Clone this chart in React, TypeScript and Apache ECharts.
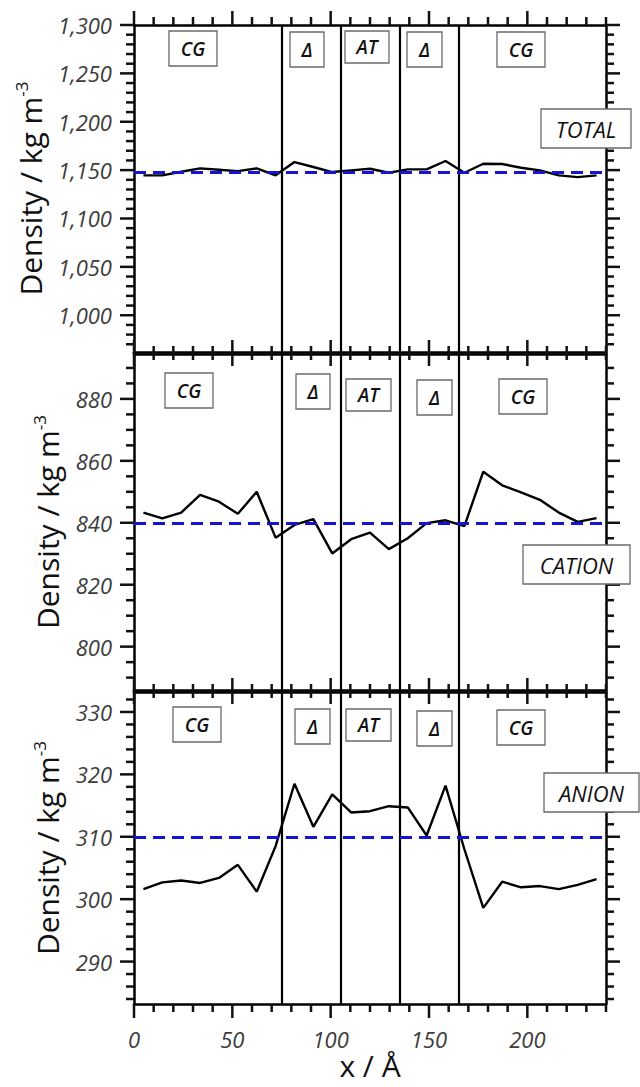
import React, { useEffect, useRef } from 'react';
import * as echarts from 'echarts';

// ---- data ----
const xPos = [4.8, 14.4, 24, 33.6, 43.2, 52.8, 62.4, 72, 81.6, 91.2, 100.8, 110.4, 120, 129.6, 139.2, 148.8, 158.4, 168, 177.6, 187.2, 196.8, 206.4, 216, 225.6, 235.2];
const totalDensity = [1144.6, 1144.6, 1148.3, 1151.8, 1150.4, 1149.0, 1151.8, 1144.6, 1158.3, 1153.2, 1148.0, 1149.7, 1151.4, 1147.3, 1150.8, 1150.8, 1159.4, 1147.3, 1156.6, 1156.3, 1152.5, 1149.7, 1144.6, 1142.8, 1144.6];
const cationDensity = [843.3, 841.4, 843.3, 849.0, 846.8, 842.9, 850.0, 835.2, 839.3, 841.2, 830.1, 834.7, 836.8, 831.5, 835.0, 839.9, 840.8, 838.9, 856.5, 852.1, 849.8, 847.4, 843.3, 840.3, 841.5];
const anionDensity = [301.6, 302.7, 303.0, 302.6, 303.4, 305.5, 301.2, 308.5, 318.5, 311.6, 316.8, 313.9, 314.1, 314.9, 314.7, 310.2, 318.2, 308.0, 298.6, 302.8, 301.9, 302.1, 301.6, 302.3, 303.2];
const meanDensity = [1148, 840, 310];
const regionBounds = [75, 105, 135, 165];
const regionLabels = ['CG', 'Δ', 'AT', 'Δ', 'CG'];
const panelLabels = ['TOTAL', 'CATION', 'ANION'];
const xTicks = [0, 50, 100, 150, 200];
const yTicksTotal = [1000, 1050, 1100, 1150, 1200, 1250, 1300];
const yTicksCation = [800, 820, 840, 860, 880];
const yTicksAnion = [290, 300, 310, 320, 330];
const yTitle = 'Density / kg m{sup|-3}';
const xTitle = 'x / Å';

// ---- layout ----
const LEFT = 134;
const RIGHT = 34;
const CHART_W = 640;
const X_MIN = 0;
const X_MAX = 240;
const X_MINOR_STEP = 10;
const gridBoxes = [
  { top: 25, height: 327 },
  { top: 354, height: 336 },
  { top: 692, height: 312 },
];
const yRanges = [
  { min: 962, max: 1300, minorStep: 10, nameGap: 84 },
  { min: 786, max: 894.5, minorStep: 5, nameGap: 66 },
  { min: 283.2, max: 333.2, minorStep: 2, nameGap: 66 },
];
const boxLayout = [
  [[193, 48.5, 48, 35], [307, 49.5, 34, 35], [367, 47, 44, 32], [424.5, 49.5, 35, 35], [521, 49.5, 48, 35], [586, 128.5, 90, 39]],
  [[189, 390.5, 48, 35], [313, 391.5, 34, 35], [368.5, 395, 45, 32], [434.5, 397.5, 35, 35], [523, 396.5, 48, 35], [576.5, 564.5, 107, 39]],
  [[197, 724.5, 48, 35], [312.5, 726.5, 35, 35], [368.5, 725, 45, 32], [434.5, 728.5, 35, 35], [521, 727.5, 48, 35], [591.5, 792.5, 95, 39]],
];

const AX = '#000';
const TICK_COLOR = '#111111';
const LBL_FONT = 'Open Sans';
const MAJOR_LEN = 14;
const MINOR_LEN = 8;
const TICK_W = 2.5;

function stepValues(min: number, max: number, step: number) {
  const out: number[] = [];
  const first = Math.ceil(min / step - 1e-9);
  const last = Math.floor(max / step + 1e-9);
  for (let k = first; k <= last; k++) out.push(Math.round(k * step * 1000) / 1000);
  return out;
}

export default function App() {
  const ref = useRef<HTMLDivElement>(null);

  useEffect(() => {
    if (!ref.current) return;
    const chart = echarts.init(ref.current, null, { renderer: 'svg' });

    const series = [totalDensity, cationDensity, anionDensity];
    const majorsY = [yTicksTotal, yTicksCation, yTicksAnion];

    const grids: any[] = [];
    const xAxes: any[] = [];
    const yAxes: any[] = [];
    const seriesOpts: any[] = [];
    const boxes: any[] = [];

    const lineStyle = { color: AX, width: 2.5 };

    for (let g = 0; g < 3; g++) {
      const { top: T, height: H } = gridBoxes[g];
      const yr = yRanges[g];
      const isBottom = g === 2;

      grids.push({ left: LEFT, right: RIGHT, top: T, height: H });
      const xBase = {
        type: 'value', gridIndex: g, min: X_MIN, max: X_MAX,
        splitLine: { show: false },
        axisLine: { show: true, onZero: false, lineStyle },
        axisTick: { show: false },
      };
      xAxes.push({
        ...xBase, position: 'bottom',
        axisLabel: {
          show: isBottom, customValues: xTicks, margin: 24,
          fontSize: 22, fontStyle: 'italic', fontFamily: LBL_FONT, color: '#3c3c3c',
        },
        name: isBottom ? xTitle : '',
        nameLocation: 'middle', nameGap: 46,
        nameTextStyle: { fontSize: 30, fontFamily: LBL_FONT, color: '#111' },
      });
      xAxes.push({ ...xBase, position: 'top', axisLabel: { show: false } });

      const yBase = {
        type: 'value', gridIndex: g, min: yr.min, max: yr.max,
        splitLine: { show: false },
        axisLine: { show: true, onZero: false, lineStyle },
        axisTick: { show: false },
      };
      yAxes.push({
        ...yBase, position: 'left',
        axisLabel: {
          show: true, customValues: majorsY[g], margin: 22,
          fontSize: 22, fontStyle: 'italic', fontFamily: LBL_FONT, color: '#3c3c3c',
          formatter: (v: number) => v.toLocaleString('en-US'),
        },
        name: yTitle, nameLocation: 'middle', nameGap: yr.nameGap,
        nameTextStyle: {
          fontSize: 30, fontFamily: LBL_FONT, color: '#111', lineHeight: 34,
          rich: { sup: { fontSize: 17, fontFamily: LBL_FONT, color: '#111', verticalAlign: 'top', lineHeight: 17 } },
        },
      });
      yAxes.push({ ...yBase, position: 'right', axisLabel: { show: false } });

      seriesOpts.push({
        type: 'line', xAxisIndex: 2 * g, yAxisIndex: 2 * g,
        data: xPos.map((x, i) => [x, series[g][i]]),
        symbol: 'none', showSymbol: false,
        lineStyle: { color: '#000', width: 2.4 },
        z: 3,
        markLine: {
          silent: true, symbol: ['none', 'none'], label: { show: false },
          data: [
            ...regionBounds.map((v) => ({ xAxis: v, lineStyle: { color: '#000', width: 2.2, type: 'solid' } })),
            { yAxis: meanDensity[g], lineStyle: { color: '#1414d2', width: 3, type: [12, 7] } },
          ],
        },
      });

      const texts = [...regionLabels, panelLabels[g]];
      boxLayout[g].forEach(([cx, cy, w, h], i) => {
        const big = i === 5;
        boxes.push({
          type: 'rect', z: 110,
          shape: { x: cx - w / 2, y: cy - h / 2, width: w, height: h },
          style: { fill: '#fff', stroke: '#6a6a6a', lineWidth: 1.3 },
        });
        boxes.push({
          type: 'text', z: 111, x: cx, y: cy,
          style: {
            text: texts[i], fill: '#111', align: 'center', verticalAlign: 'middle',
            fontFamily: LBL_FONT, fontStyle: 'italic', fontWeight: big ? 'normal' : 600,
            fontSize: big ? 22 : 19,
          },
        });
      });
    }

    chart.setOption({
      animation: false,
      backgroundColor: '#fff',
      grid: grids,
      xAxis: xAxes,
      yAxis: yAxes,
      series: seriesOpts,
    });

    // axis ticks (outside on all four sides), placed on the grids' linear scales
    const ticks: any[] = [];
    const tickRect = (x: number, y: number, w: number, h: number) => ({
      type: 'rect', z: 100, silent: true,
      shape: { x, y, width: w, height: h },
      style: { fill: TICK_COLOR },
    });
    const xMinor = stepValues(X_MIN, X_MAX, X_MINOR_STEP);
    for (let g = 0; g < 3; g++) {
      const yr = yRanges[g];
      const { top: T, height: H } = gridBoxes[g];
      const plotW = CHART_W - LEFT - RIGHT;
      const px = (x: number, y: number): number[] => [
        LEFT + ((x - X_MIN) / (X_MAX - X_MIN)) * plotW,
        T + ((yr.max - y) / (yr.max - yr.min)) * H,
      ];
      const xL = px(X_MIN, yr.min)[0];
      const xR = px(X_MAX, yr.min)[0];
      const yB = px(X_MIN, yr.min)[1];
      const yT = px(X_MIN, yr.max)[1];
      const drawX = (v: number, len: number) => {
        const x = px(v, yr.min)[0];
        ticks.push(tickRect(x - TICK_W / 2, yB, TICK_W, len));
        ticks.push(tickRect(x - TICK_W / 2, yT - len, TICK_W, len));
      };
      const drawY = (v: number, len: number) => {
        const y = px(X_MIN, v)[1];
        ticks.push(tickRect(xL - len, y - TICK_W / 2, len, TICK_W));
        ticks.push(tickRect(xR, y - TICK_W / 2, len, TICK_W));
      };
      xMinor.filter((v) => !xTicks.includes(v)).forEach((v) => drawX(v, MINOR_LEN));
      xTicks.forEach((v) => drawX(v, MAJOR_LEN));
      const majs = majorsY[g];
      stepValues(yr.min, yr.max, yr.minorStep)
        .filter((v) => !majs.some((m) => Math.abs(m - v) < 1e-6))
        .forEach((v) => drawY(v, MINOR_LEN));
      majs.forEach((v) => drawY(v, MAJOR_LEN));
    }

    chart.setOption({ graphic: { elements: [...boxes, ...ticks] } });

    return () => chart.dispose();
  }, []);

  return <div ref={ref} style={{ position: 'fixed', left: 0, top: 0, width: 640, height: 1087 }} />;
}
